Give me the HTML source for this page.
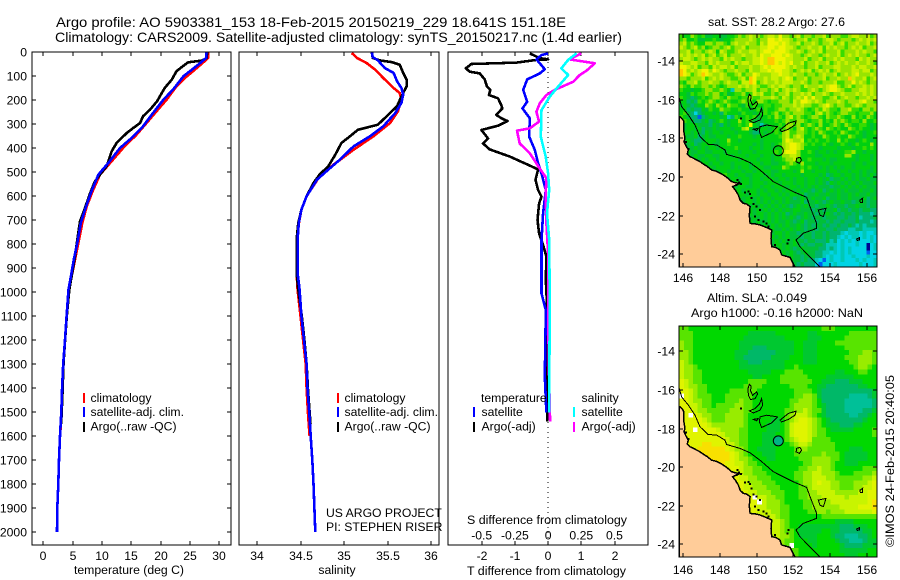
<!DOCTYPE html>
<html lang="en">
<head>
<meta charset="utf-8">
<title>Argo profile 5903381_153</title>
<style>
html,body{margin:0;padding:0;background:#fff;}
svg{display:block;font-family:"Liberation Sans",sans-serif;fill:#000;}
text{font-size:12.2px;}
.t14{font-size:14px;}
</style>
</head>
<body>
<svg id="fig" xmlns="http://www.w3.org/2000/svg" width="900" height="580" viewBox="0 0 900 580" shape-rendering="crispEdges">
<rect x="0" y="0" width="900" height="580" fill="#fff"/>
<text class="t14" x="56" y="27" textLength="510" lengthAdjust="spacingAndGlyphs">Argo profile: AO 5903381_153 18-Feb-2015 20150219_229 18.641S 151.18E</text>
<text class="t14" x="55" y="42" textLength="567" lengthAdjust="spacingAndGlyphs">Climatology: CARS2009. Satellite-adjusted climatology: synTS_20150217.nc (1.4d earlier)</text>
<text x="74" y="574" textLength="110" lengthAdjust="spacingAndGlyphs">temperature (deg C)</text>
<text x="337" y="574" text-anchor="middle">salinity</text>
<text x="467" y="575" textLength="159" lengthAdjust="spacingAndGlyphs">T difference from climatology</text>
<text x="467" y="524" textLength="160" lengthAdjust="spacingAndGlyphs">S difference from climatology</text>
<text x="326" y="517">US ARGO PROJECT</text>
<text x="326" y="531">PI: STEPHEN RISER</text>
<text x="708" y="26" textLength="137" lengthAdjust="spacingAndGlyphs">sat. SST: 28.2 Argo: 27.6</text>
<text x="707" y="302" textLength="100" lengthAdjust="spacingAndGlyphs">Altim. SLA: -0.049</text>
<text x="691" y="317" textLength="172" lengthAdjust="spacingAndGlyphs">Argo h1000: -0.16 h2000: NaN</text>
<text transform="translate(894,547) rotate(-90)" textLength="172" lengthAdjust="spacingAndGlyphs">©IMOS 24-Feb-2015 20:40:05</text>
<g id="layer"></g>
</svg>
<script>
// ---- depth axis
var depthTicks = [0,100,200,300,400,500,600,700,800,900,1000,1100,1200,1300,1400,1500,1600,1700,1800,1900,2000];
// ---- temperature panel
var tempTicks = [0,5,10,15,20,25,30];
var climTempDepth = [0,25,67,108,143,199,247,296,344,400,462,511,574,643,712,796,865,935,990,1100,1200,1300,1400,1500,1600];
var climTempValues = [28.1,28.1,26.14,24.15,22.7,21.0,19.3,17.6,15.9,13.6,11.4,9.66,8.5,7.4,6.65,5.97,5.4,4.83,4.43,4.0,3.72,3.45,3.22,3.1,2.86];
var argoTempDepth = [0,25,36,43,60,80,115,150,205,240,268,296,317,338,379,414,476,511,539,587,650,706,754,851,935,990,1100,1200,1300,1420,1550];
var argoTempValues = [27.95,27.84,27.0,24.7,23.75,22.7,21.9,20.7,19.4,18.2,17.0,16.5,15.3,14.2,12.5,11.65,10.8,9.66,8.8,8.0,7.1,6.25,5.97,5.4,4.83,4.43,4.0,3.72,3.45,3.28,3.05];
var satTempDepth = [0,25,53,74,101,154,199,261,310,358,400,462,511,581,643,712,796,865,935,990,1100,1200,1300,1400,1500,1600,1700,1800,1900,2000];
var satTempValues = [27.84,27.73,26.4,25.3,23.9,22.2,20.45,18.5,17.0,15.06,13.07,11.1,9.4,8.2,7.3,6.4,5.8,5.2,4.7,4.3,3.98,3.7,3.4,3.2,3.07,2.84,2.67,2.56,2.39,2.33];
// ---- salinity panel
var salTicks = [34,34.5,35,35.5,36];
var salTickLabels = ['34','34.5','35','35.5','36'];
var climSalDepth = [4,25,46,74,108,150,171,199,247,296,351,407,469,518,601,657,726,782,921,990,1100,1200,1300,1400,1500,1600];
var climSalValues = [35.09,35.15,35.26,35.36,35.45,35.57,35.64,35.66,35.62,35.53,35.34,35.11,34.88,34.72,34.57,34.51,34.475,34.455,34.455,34.467,34.5,34.53,34.56,34.57,34.585,34.605];
var argoSalDepth = [0,25,35,42,53,87,115,143,185,226,261,303,324,351,379,428,476,511,546,601,657,712,782,921,990,1100,1200,1300,1400,1500,1550];
var argoSalValues = [35.32,35.33,35.41,35.55,35.64,35.68,35.72,35.72,35.66,35.61,35.51,35.39,35.16,35.07,34.97,34.9,34.82,34.72,34.65,34.57,34.51,34.475,34.455,34.455,34.475,34.515,34.545,34.57,34.585,34.605,34.615];
var satSalDepth = [0,21,35,67,87,122,150,178,212,254,310,351,393,449,490,532,601,657,712,782,921,990,1100,1200,1300,1400,1500,1600,1700,1800,1900,2000];
var satSalValues = [35.32,35.33,35.39,35.47,35.57,35.61,35.66,35.68,35.66,35.59,35.45,35.3,35.11,34.95,34.82,34.69,34.57,34.51,34.48,34.467,34.467,34.49,34.51,34.54,34.57,34.58,34.6,34.617,34.636,34.65,34.66,34.67];
// ---- difference panel
var tDiffTicks = [-2,-1,0,1,2];
var sDiffTicks = [-0.5,-0.25,0,0.25,0.5];
var sDiffTickLabels = ['-0.5','-0.25','0','0.25','0.5'];
var argoTDiffDepth = [6,19,26,31,33,44,50,68,82,89,114,144,158,179,193,221,235,262,276,288,307,325,360,381,406,436,467,489,533,575,603,631,700,756,804,853,950,1061,1300,1540];
var argoTDiffValues = [-0.55,-0.35,-0.25,0,-0.35,-0.95,-2.31,-2.48,-2.36,-2.06,-1.91,-1.84,-1.74,-1.78,-1.51,-1.41,-1.38,-1.56,-1.41,-1.22,-1.51,-2.01,-1.81,-1.96,-1.76,-1.15,-0.65,-0.3,-0.38,-0.3,-0.2,-0.27,-0.32,-0.27,-0.15,-0.05,-0.07,-0.03,-0.03,-0.02];
var satTDiffDepth = [6,13,31,72,89,114,158,207,235,276,353,408,464,506,575,672,783,1006,1075,1200,1350,1503];
var satTDiffValues = [0,-0.2,-0.35,-0.1,-0.25,-0.63,-0.75,-0.63,-0.77,-0.55,-0.57,-0.4,-0.3,-0.2,-0.07,-0.15,-0.2,-0.2,-0.07,-0.08,-0.1,-0.05];
var argoSDiffDepth = [6,31,47,78,96,124,158,179,214,249,290,318,328,381,422,485,526,589,714,839,1061,1300,1540];
var argoSDiffValues = [0.25,0.163,0.352,0.289,0.239,0.188,0.05,-0.013,-0.063,-0.088,-0.068,-0.138,-0.234,-0.214,-0.138,-0.063,-0.013,-0.018,-0.013,0,0,0.005,0.015];
var satSDiffDepth = [6,33,68,96,144,186,242,353,436,506,575,672,783,1061,1300,1503];
var satSDiffValues = [0.214,0.151,0.1,0.151,0.075,0.013,-0.05,-0.055,-0.018,0,0.008,-0.008,0.008,0.013,0.01,0.008];
// ---- maps
var lonTicks = [146,148,150,152,154,156];
var latTicks = [-14,-16,-18,-20,-22,-24];
var argoLon = 151.18;
var argoLat = -18.641;
var coastLon = [145.78,145.82,145.95,146.04,146.02,146.09,146.04,146.15,146.27,146.22,146.36,146.5,146.73,146.9,147.09,147.3,147.55,147.8,148.09,148.35,148.64,148.85,149.09,148.69,148.85,149.0,149.1,149.27,149.45,149.64,149.6,149.64,149.9,150.18,150.5,150.82,150.78,150.82,151.05,151.27,151.36,151.6,151.82,152.09,145.78];
var coastLat = [-16.88,-16.88,-17.0,-17.14,-17.6,-18.0,-18.17,-18.4,-18.6,-18.8,-18.95,-19.0,-19.12,-19.2,-19.33,-19.45,-19.64,-19.7,-19.84,-20.0,-20.24,-20.3,-20.33,-20.5,-20.7,-20.93,-21.2,-21.36,-21.4,-21.53,-22.0,-22.4,-22.42,-22.48,-22.6,-22.74,-23.2,-23.6,-23.65,-23.78,-24.03,-24.1,-24.16,-24.66,-24.66];
var isobathLon = [145.78,145.91,146.27,146.64,146.91,147.36,147.82,148.27,148.36,149.09,149.64,150.18,150.91,152.0,152.73,152.91,153.27,153.27,152.55,152.15,152.36,153.45];
var isobathLat = [-15.93,-16.36,-16.79,-17.31,-17.91,-18.31,-18.34,-18.6,-18.83,-19.03,-19.26,-19.64,-20.24,-20.76,-21.05,-21.53,-22.4,-22.66,-22.91,-23.26,-23.6,-24.66];
var reefLons = [
 [149.6,149.69,149.67,149.78,150,150.05,149.91,149.67,149.55,149.53],
 [150.27,150.33,150.18,149.82,149.6,149.91,150.15],
 [149.82,150.09,150],
 [150.18,150.55,151.13,150.82,150.27,150.15],
 [151.27,151.73,152.15,152.09,151.73,151.36],
 [152.18,152.36,152.45,152.33,152.15],
 [153.36,153.78,153.64,153.45],
 [155.64,155.78,155.76,155.65],
 [155.45,155.6,155.6,155.49]
];
var reefLats = [
 [-15.72,-15.81,-16.05,-16.28,-16.1,-16.22,-16.45,-16.5,-16.28,-15.93],
 [-16.45,-16.79,-17.05,-17.19,-17.09,-16.97,-16.74],
 [-17.53,-17.48,-17.6],
 [-17.4,-17.31,-17.4,-17.71,-17.95,-17.66],
 [-17.57,-17.22,-17.1,-17.31,-17.53,-17.66],
 [-19.03,-18.98,-19.12,-19.29,-19.21],
 [-21.71,-21.62,-22.05,-21.97],
 [-21.19,-21.1,-21.31,-21.31],
 [-23.21,-23.14,-23.26,-23.28]
];
var isletLons = [148.95,149.05,148.91,149.15,149.36,149.55,149.64,149.73,149.82,150,150.18,149.91,150.09,150.36,150.55,150.64,151,151.73,151.67,146.15,146.27,149.15];
var isletLats = [-20.16,-20.29,-20.41,-20.36,-20.81,-20.76,-20.88,-21.1,-21.41,-21.53,-21.71,-22.05,-22.22,-22.31,-22.4,-22.57,-23.52,-23.26,-23.43,-18.2,-18.55,-16.97];
// SST grid: one letter per 0.2 deg cell, north to south, west to east
var sstRows = [
"hggihghff ggffgghih ijiihijji kiihijhii hiijhiiih hijjiijhi",
"higghffgg hgfgghiii ijihiikkj kjjihiijh iihijjihi iihijijij",
"ijhihggii hiihgijii jiihjikkk jkjiijhii jihiijhij hiijiijhi",
"jihijhigh iihijhiij hiiijjkkj kkjjihiij iijhjijii hijijhiij",
"iijhiihij igjihhiji ijjijkkjk kkjiijihi jijhiiijh iiijijiih",
"jijijijhi jhijhiiij iijikjjkk kjkjiihij iihijiijh ijijiihij",
"ijjihijij iihjijiih iijjkjllk kkjjiiijh iijhiijij iiihjijii",
"jiijjiihj ijiiihjij jijjkjllk jkjkiijhi ijiijhiji jiijiijih",
"kkjijhiih jijjijhii ijiijkjkk kkjijiihi ijhiiijji iijijjiij",
"lkijijkki kjihiijii hjiijjkjk kjjihijij hijijhiji iijjijjhi",
"lkjhijlkj iijihhijh iikjiiijj kjjijiihi ihijiijhi jijkiiiji",
"iihiiijhi jijiihhij hlkiijijj ijkjhiijh iiijhiiji iljiijhij",
"hgiijhiij iihijiihj jlkhijiij ijjjiijih iihiiijhh iikijihii",
"ihgihhiih ihghiiiji jijihhiji jjihiihji iijijkkih ijhiijiji",
"hggfgghii hhihgdiih iijhiihij hijijihhi jihijkkji hhiijjiji",
"ggfhghhih iighfghhi ghjijhhih iijhiijij hiijihiij iiijijiji",
"hgfefghgh iihgihhgh hihhiiiji hjihijiki kiihhijhi jiihiijij",
"ggefehghi hghihgghi hhgiihghh iiihjikkj ijihiiiji hiiijkiih",
"fgfefggih gihgihhgf hghgghhgh hiiijijii hhijkihii hhijihiii",
"ggefeegfh ggihhgghg gfghfhggh iihiijihg hihjihhgi ijhhgiihi",
"ghfecefgg fgehgggfh ggfgghghi ghihiiihh gijhihghi ihhghhhig",
"hgfeebefg ggfgdehgg hghfgghgi hgijhihgh iihgihhih ggighgihg",
"fhgfeefge fghgfggig hhfffgggh ghihhiihg hhighgihi hghhgiggh",
"gfgggfffe gfegfgghg hkgfdfggg hgiihighi hgigghihg ihgghhgfg",
"ffggfgeff gfgggfggi jgfgggfgh ghihgijhg hihgihghg gihghggfg",
"fggfgfegf ggfgggfgg gfeegfggh gijhhiihg hgihgghgi hgghgfggh",
"fgffgefgf fgggfgghg ggfgggggg hijhijigg hggihgghg gihggfggg",
"ffgfeefgg gfggiggfg ggggfgggg gikjiijgh ghgghggig hggfghgfg",
"gffgefggg ffgghgggg ggfgfggfg hijkkjihg hgghgfggh gfghgggig",
"fgffgfgfg gfgggghgg gfggfggfg gijkkjigg ggfggggfg ggfgghghg",
"ffgffggff gggfgggfg ggfgggggh gjkkkiggh gfggfgfgg hhiggfggg",
"gfgfgffgg ffgggfggg fgggfggfg giijjiggg gffgggggg iigfgggfg",
"fgffgfgfg gfgggggfg gggfgggfg ghiijhggh gggfgffgg gggfgggfg",
"ffgfffggf ggfggfggg gfggfggff gghihgigg gfgggfggg ggfggfggg",
"gfgfgfgfg fggggfgfg gfgggffgg gihggghgh ggfgfgfgf ggfggggfg",
"fgffgffgg gfggfgggf ggfggggff ggggfgigg fgggfggfg gfggfgffg",
"fggfgfggf fgghggfgg ffgggfgfg gfggggfgg ggfgefggf ggfgfgfgf",
"ggfffgfgg ggggfggfg gfggfgggf ggfgfggfg gfgfgeffg fgfgffgff",
"ffgfgffgf hhigfggfg gfgggfggg fgggfggfg gfgfegfgf gfgfgfffg",
"ffgffgfhi ihhgfgfgg ffggfggfg ggfggfgfg fgfffeffg fgfgfgfff",
"fgffggfij igfgfgggf gggfgfggf gfggfgfgf efgefgfgf gfffgffgf",
"fffgffgfg gfgfggfgg fggfggfgg fgfggfgef fgffgffgf fgfgffgff",
"ffgffgfgf gffgfgfgf ggfgfggfg gfgfefgff gffgeffgf fgfffgefg",
"fffgfffgf fggfgfgff ggfgfgfgf gfgfffgef fgfefgffg ffefgfeff",
"ffgfffgff ffgfgffgf gfgfgfgfg fgfefgfgf feffgfeff effgffeff",
"fffffffff fgfffgfgf fgfgfgfgf gfgfggfff effeffgef feffeffee",
"fffffffff fffgfgffg fgfggfgfg fgefgffgf feffgfefe ffefeeede",
"fffffffff fffffgfgf gfgfgfgfg fgfgfefgf effefffee feefdeeef",
"fffffffff ffffffgfg fgfgffgfg ffgfefgef feffefeef eeefeeede",
"fffffffff ffffffffg fgfgfgfgf gfgffgfef effefeefe efededeee",
"fffffffff ffffffffe fggfgfggf fgfgfgfef feffeefee eddeedddd",
"fffffffff ffffffffe eggfgfgfg gfgffefff effefeeed cdddcdccd",
"fffffffff ffffffffe dffgggfgf gfgfffeff effefeedc dcddcdcdc",
"fffffffff fffffffff ddgfgfgfg fgffgffef feeefdecd cdcdcccdc",
"fffffffff fffffffff fdefgfgfg gfgfgfefe effedddcd cccdccacd",
"fffffffff fffffffff ffefgfgff gfgfefgff ffeededcd cdccccacd",
"fffffffff fffffffff fffefgfgf fgfgfefgf feeddcdcd cdccccbcc",
"fffffffff fffffffff fffefggfg fgfgffeff feedcdccd ccdcccdcc",
"fffffffff fffffffff fffffgfgf ggfgffefe edcbcdccd cccdcdccd",
"fffffffff fffffffff fffffffgg fgfffefee ecbcccdcc ccccdcccd"
];
// SLA grid: one letter per 0.25 deg cell, north to south, west to east
var slaRows = [
"hhgggggggg gggggggggg gggggggggg ghhhggggggggg",
"hhhggggggg gggggfffff fgggggggff ggggggghhhhhh",
"hhhggggggg ggggffffff fffgggggff fggggghhhhhhh",
"ihhggggggg gggfffffff fffffggfff gggghhhhhhhhh",
"ihhggggggg gggfffeeef fffffggfff gggggghhhhhhh",
"iihggggggg ggfffeeeee effffggfff ggggggghhhiih",
"iihggggggg ggffeeeeee ffffgggfff gggggghhhiiih",
"jihggggggg gggffeeeff fffggggfff ggggggghhiiih",
"jiihgggggg gggfffffff fffgghgggg gggggggghiihg",
"jiihhggggg gggggfffff ggghhhhggg ggggffggghhgg",
"jiihhggggg ggggggffgg gghhhhhhgg ggffffffggggg",
"kjihhggggg ggggghhhhg gghhhhhhhg gfffeeefffggg",
"kjiihhgggg gggghhhhgg gggghhhhgg ffeeeeeeeffgg",
"kkjihhgggg ghhhhhhggg ggggghhhhg feeeeeeeeeeef",
"wkjihhhggg hhhhhhgggg ggggghhiih feeeeeeddddef",
"kkjiihhggg hhhihhgggg gggghhiiih geeeeedddddde",
"kkjjihhghh hhiihhgggg gggghiiiih gfeeeedddddde",
"kkkjiihhhh hiiihhgggg ggghhiijih hfeeeeddddeef",
"kkwkjiihhh iiiihggggg ggghijjjih gfeeeeeddeefg",
"kkkkkjihhh iiiihggggg ffghijkkji hgfeeeeeeefgg",
"kkkkkkjiii iiiihggggf ffghjkkkji hgfffeeeffggg",
"kkkwkkkkji iiihhggggf ffghjkkkji hhgfffffggggh",
"kkkkkkkkkj iiihhgggff fgghjkkkji hhggggggggggh",
"kkkkkkkkkk jiihhgggff fgghijkkjh hhhgggggggggg",
"kkkkkllkkk jjihhgggff fggghijjih hhhhggggggggg",
"kkkkllllll kjiihggfff fgggghiihh hhhhgggfffggg",
"kkkkllllll lkjihgggff fgggghhhhh hihhhgfffffgg",
"kkkkkkllll lkjiihgggf fggggghhhi iiihhgfffffgg",
"kkkkkkkkll kkjjihhggg ggggggghhi iiihggfffgggg",
"kkkkkkkkkk kkkjiihhgg gggggghhii jiihgggggghhh",
"kkkkkkkkkk kkjjiihhhg ggggghhiij jiiihggghhhhi",
"kkkkkkkkkk kkkjjiihhh ggggghhiij jjiihhhhhhiij",
"kkkkkkkkkk kkkkjiiihh hggggghiij kjjiihhhiiijk",
"kkkkkkkkkk kkkkjjiiih hhgggghhij jjjiihhhiijjk",
"kkkkkkkkkk kkkkkjjiii hhhggghhii jjjjiiiiijjkk",
"kkkkkkkkkk kkkkkkwjji ihhggghhii ijjjjjijjjjkk",
"kkkkkkkkkk kkkkkkkwji iihgggghhi iiijjjjjjjjkl",
"kkkkkkkkkk kkkkkkkjji iihhggghhi iiiiijjjjkkkl",
"kkkkkkkkkk kkkkkkkjjj iihhgggghh iihiiijjjjjjk",
"kkkkkkkkkk kkkkkkkkjj jihhgggggg ghhhhhhhhhhhh",
"kkkkkkkkkk kkkkkkkkjj jjihgggggg ggggffffggggg",
"kkkkkkkkkk kkkkkkkkjj jjihggffff fffffeeefffgg",
"kkkkkkkkkk kkkkkkkkkj jjihhgffff fggffeeeeeffg",
"kkkkkkkkkk kkkkkkkkkj jjiihgffff gggfeedddeefg",
"kkkkkkkkkk kkkkkkkkkk jjihhgggff ggggfeedddeff",
"kkkkkkkkkk kkkkkkkkkk jjihwggggf gggggfeeeefff",
"kkkkkkkkkk kkkkkkkkkk kjihhhgggg gggggffffffgg",
"kkkkkkkkkk kkkkkkkkkk kjiihhgggg ggggggfffgggg"
];
var sstPalette = {a:'#000090',b:'#0060f0',c:'#00d4e4',d:'#00c8b4',e:'#00b470',f:'#00c038',g:'#00d010',h:'#38dc00',i:'#98e400',j:'#c8f000',k:'#f0f400',l:'#ffc800',m:'#ff9000',w:'#ffffff'};
var slaPalette = {c:'#00d0e0',d:'#00c098',e:'#00b868',f:'#00c830',g:'#00d800',h:'#58e400',i:'#98ec00',j:'#c8f400',k:'#e0f400',l:'#f8e000',w:'#ffffff'};

var SVGNS = 'http://www.w3.org/2000/svg';
var layer = document.getElementById('layer');
function mk(tag, attrs, parent){
  var e = document.createElementNS(SVGNS, tag);
  for (var k in attrs) e.setAttribute(k, attrs[k]);
  (parent || layer).appendChild(e);
  return e;
}
function linear(d0, d1, p0, p1){ return function(v){ return p0 + (v - d0) * (p1 - p0) / (d1 - d0); }; }
function path(xs, ys, sx, sy, close){
  var s = '';
  for (var i = 0; i < xs.length; i++) s += (i ? 'L' : 'M') + sx(xs[i]).toFixed(1) + ' ' + sy(ys[i]).toFixed(1);
  return s + (close ? 'Z' : '');
}
function box(name, x0, y0, x1, y1){
  var r = mk('rect', {x:x0, y:y0, width:x1-x0, height:y1-y0, fill:'none', stroke:'#000', 'stroke-width':1});
  
  
}
function tick(name, x0, y0, x1, y1){
  var l = mk('line', {x1:x0, y1:y0, x2:x1, y2:y1, stroke:'#000', 'stroke-width':1});
  
  
}
function label(name, x, y, txt, anchor){
  var t = mk('text', {x:x, y:y, 'text-anchor':anchor || 'middle'});
  t.textContent = txt;
  
  
}
function series(name, xs, ys, sx, sy, color){
  var p = mk('path', {d:path(xs, ys, sx, sy), fill:'none', stroke:color, 'stroke-width':2.6, 'stroke-linejoin':'round'});
  
  
}
function stick(name, x, y0, y1, color){
  var r = mk('rect', {x:x, y:y0, width:2, height:y1-y0, fill:color});
  
  
}

var yTop = 52, yBottom = 545;
var sy = linear(0, 2000, 52, 532);

// panel frames
var p1 = {l:32, r:231}, p2 = {l:239, r:439}, p3 = {l:448, r:648};
var sxT = linear(0, 30, 43.3, 219.3);
var sxS = linear(34, 36, 257, 431);
var sxD = linear(-2, 2, 481.7, 614.5);
var sxDS = linear(-0.5, 0.5, 481.7, 614.5);

// depth ticks and labels
depthTicks.forEach(function(d){
  var y = Math.round(sy(d));
  tick('depth-tick-left', p1.l, y, p1.l+4, y);
  tick('depth-tick-right', p1.r-4, y, p1.r, y);
  label('depth-tick-label', 27, y+4.5, String(d), 'end');
});
// temperature axis
tempTicks.forEach(function(v){
  var x = Math.round(sxT(v));
  tick('temperature-tick-bottom', x, yBottom-4, x, yBottom);
  tick('temperature-tick-top', x, yTop, x, yTop+4);
  label('temperature-tick-label', x, 560, String(v));
});
// salinity axis
salTicks.forEach(function(v, i){
  var x = Math.round(sxS(v));
  tick('salinity-tick-bottom', x, yBottom-4, x, yBottom);
  tick('salinity-tick-top', x, yTop, x, yTop+4);
  label('salinity-tick-label', x, 560, salTickLabels[i]);
});
// difference axes
tDiffTicks.forEach(function(v){
  var x = Math.round(sxD(v));
  tick('t-difference-tick-bottom', x, yBottom-4, x, yBottom);
  tick('t-difference-tick-top', x, yTop, x, yTop+4);
  label('t-difference-tick-label', x, 560, String(v));
});
sDiffTicks.forEach(function(v, i){
  label('s-difference-tick-label', sxDS(v), 539.5, sDiffTickLabels[i]);
});
// zero line
var zero = mk('line', {x1:sxD(0), y1:yTop, x2:sxD(0), y2:yBottom, stroke:'#000', 'stroke-width':1, 'stroke-dasharray':'1 4'});



// temperature series
series('climatology-temperature-line', climTempValues, climTempDepth, sxT, sy, '#ff0000');
series('argo-temperature-line', argoTempValues, argoTempDepth, sxT, sy, '#000000');
series('satellite-temperature-line', satTempValues, satTempDepth, sxT, sy, '#0000ff');
// salinity series
series('climatology-salinity-line', climSalValues, climSalDepth, sxS, sy, '#ff0000');
series('argo-salinity-line', argoSalValues, argoSalDepth, sxS, sy, '#000000');
series('satellite-salinity-line', satSalValues, satSalDepth, sxS, sy, '#0000ff');
// difference series
series('argo-t-difference-line', argoTDiffValues, argoTDiffDepth, sxD, sy, '#000000');
series('satellite-t-difference-line', satTDiffValues, satTDiffDepth, sxD, sy, '#0000ff');
series('argo-s-difference-line', argoSDiffValues, argoSDiffDepth, sxDS, sy, '#ff00ff');
series('satellite-s-difference-line', satSDiffValues, satSDiffDepth, sxDS, sy, '#00ffff');

box('temperature-panel-frame', p1.l, yTop, p1.r, yBottom);
box('salinity-panel-frame', p2.l, yTop, p2.r, yBottom);
box('difference-panel-frame', p3.l, yTop, p3.r, yBottom);

// legends
[[83,90.5,'temperature'],[337,344.5,'salinity']].forEach(function(a){
  stick('legend-swatch-climatology', a[0], 393, 403, '#ff0000');
  label('legend-entry-climatology', a[1], 402, 'climatology', 'start');
  stick('legend-swatch-satellite', a[0], 407, 417, '#0000ff');
  label('legend-entry-satellite', a[1], 416, 'satellite-adj. clim.', 'start');
  stick('legend-swatch-argo', a[0], 422, 432, '#000000');
  label('legend-entry-argo', a[1], 430.5, 'Argo(..raw -QC)', 'start');
});
label('legend-heading-temperature', 481, 402, 'temperature', 'start');
stick('legend-swatch-t-satellite', 473, 407, 417, '#0000ff');
label('legend-entry-t-satellite', 481.5, 416, 'satellite', 'start');
stick('legend-swatch-t-argo', 473, 422, 432, '#000000');
label('legend-entry-t-argo', 481.5, 430.5, 'Argo(-adj)', 'start');
label('legend-heading-salinity', 581.5, 402, 'salinity', 'start');
stick('legend-swatch-s-satellite', 573, 407, 417, '#00ffff');
label('legend-entry-s-satellite', 581.5, 416, 'satellite', 'start');
stick('legend-swatch-s-argo', 573, 422, 432, '#ff00ff');
label('legend-entry-s-argo', 581.5, 430.5, 'Argo(-adj)', 'start');

// maps
function drawMap(prefix, rows, palette, lonStep, latStep, top, bottom, lat14, lat24, labelY, argoFill){
  var left = 679, right = 877;
  var sx = linear(146, 156, 683.3, 866.7);
  var syM = linear(-14, -24, lat14, lat24);
  var lon0 = 145.78;
  var lat0 = -14 - (top - lat14) / ((lat24 - lat14) / 10);
  var id = prefix + '-clip';
  var defs = mk('defs', {});
  var cp = mk('clipPath', {id:id}, defs);
  mk('rect', {x:left, y:top, width:right-left, height:bottom-top}, cp);
  var g = mk('g', {'clip-path':'url(#'+id+')'});
  
  
  rows.forEach(function(row, r){
    var chars = row.replace(/ /g, '');
    for (var c = 0; c < chars.length; c++){
      var x0 = sx(lon0 + c * lonStep), x1 = sx(lon0 + (c + 1) * lonStep);
      var y0 = syM(lat0 - r * latStep), y1 = syM(lat0 - (r + 1) * latStep);
      var cell = mk('rect', {x:x0.toFixed(2), y:y0.toFixed(2), width:(x1-x0+0.6).toFixed(2), height:(y1-y0+0.6).toFixed(2), fill:palette[chars[c]]}, g);
      
      
    }
  });
  var land = mk('path', {d:path(coastLon, coastLat, sx, syM, true), fill:'#ffcc99', stroke:'#000', 'stroke-width':1.5}, g);
  
  
  var iso = mk('path', {d:path(isobathLon, isobathLat, sx, syM), fill:'none', stroke:'#000', 'stroke-width':1}, g);
  
  
  reefLons.forEach(function(lons, i){
    var reef = mk('path', {d:path(lons, reefLats[i], sx, syM, true), fill:'none', stroke:'#000', 'stroke-width':1}, g);
    
    
  });
  isletLons.forEach(function(lon, i){
    var dot = mk('rect', {x:sx(lon)-1, y:syM(isletLats[i])-1, width:2, height:2, fill:'#000'}, g);
    
    
  });
  var argo = mk('circle', {cx:sx(argoLon), cy:syM(argoLat), r:5, fill:argoFill, stroke:'#000', 'stroke-width':1, 'shape-rendering':'auto'}, g);
  
  
  box(prefix + '-map-frame', left, top, right, bottom);
  lonTicks.forEach(function(v){
    var x = Math.round(sx(v));
    tick(prefix + '-lon-tick-bottom', x, bottom-4, x, bottom);
    tick(prefix + '-lon-tick-top', x, top, x, top+4);
    label(prefix + '-lon-tick-label', x, labelY, String(v));
  });
  latTicks.forEach(function(v){
    var y = Math.round(syM(v));
    tick(prefix + '-lat-tick-left', left, y, left+4, y);
    tick(prefix + '-lat-tick-right', right-4, y, right, y);
    label(prefix + '-lat-tick-label', 675, y+4.5, String(v), 'end');
  });
}
drawMap('sst', sstRows, sstPalette, 0.2, 0.2, 34, 267, 61, 254.3, 282, 'none');
drawMap('sla', slaRows, slaPalette, 0.25, 0.25, 326, 557, 351.3, 544.3, 574, '#00b484');
</script>
</body>
</html>
